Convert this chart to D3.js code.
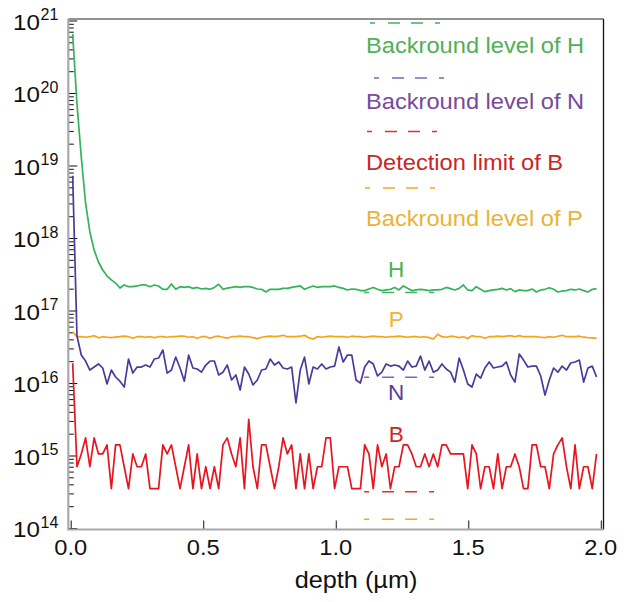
<!DOCTYPE html>
<html>
<head>
<meta charset="utf-8">
<script src="https://cdn.jsdelivr.net/npm/d3@7"></script>
<style>
  body { margin: 0; background: #fff; }
  text { font-family: "Liberation Sans", Arial, Helvetica, sans-serif; }
</style>
</head>
<body>
<svg id="chart" width="634" height="602"></svg>
<script>
'use strict';

// depth sampling of the SIMS profiles (µm)
var depthStart = 0.0075;
var depthStep = 0.0162;

// concentrations (atoms/cm3), one value per depth sample
var hydrogen = [
  6.5e20, 7.05e19, 1.31e19, 3.04e18, 1.21e18, 6.8e17, 4.67e17, 3.62e17, 2.99e17, 2.64e17, 2.39e17, 2.04e17,
  2.25e17, 2.13e17, 2.13e17, 2.18e17, 2.25e17, 2.25e17, 2.13e17, 2.25e17, 2.18e17, 1.96e17, 1.96e17,
  2.32e17, 1.96e17, 2.13e17, 2.08e17, 2.13e17, 2.02e17, 2.08e17, 1.98e17, 2.02e17, 1.96e17, 2.08e17,
  2.30e17, 1.96e17, 2.04e17, 2.08e17, 2.13e17, 2.08e17, 2.13e17, 2.13e17, 2.08e17, 1.98e17, 1.96e17,
  1.80e17, 1.96e17, 1.96e17, 1.96e17, 2.02e17, 2.02e17, 2.08e17, 2.13e17, 2.18e17, 1.96e17, 2.08e17,
  2.18e17, 2.08e17, 2.13e17, 2.13e17, 2.13e17, 2.18e17, 2.08e17, 2.02e17, 1.92e17, 1.98e17, 1.96e17,
  1.88e17, 1.88e17, 1.98e17, 2.08e17, 1.96e17, 1.88e17, 1.92e17, 1.96e17, 2.08e17, 1.92e17, 2.18e17,
  2.02e17, 1.88e17, 1.92e17, 1.96e17, 1.92e17, 1.88e17, 1.92e17, 1.92e17, 1.96e17, 2.08e17, 2.00e17,
  1.92e17, 2.02e17, 2.25e17, 1.92e17, 1.88e17, 2.13e17, 1.96e17, 1.82e17, 1.88e17, 1.92e17, 1.96e17,
  2.02e17, 1.92e17, 2.00e17, 1.82e17, 1.92e17, 1.88e17, 1.88e17, 1.98e17, 1.80e17, 1.92e17, 1.96e17,
  2.06e17, 1.96e17, 1.80e17, 1.86e17, 1.88e17, 1.96e17, 1.92e17, 1.98e17, 1.88e17, 1.80e17, 1.96e17, 2.00e17
];

var nitrogen = [
  7.2e18, 4.45e16, 2.43e16, 2.01e16, 1.51e16, 1.66e16, 1.83e16, 1.61e16, 9.7e15, 1.51e16, 1.21e16, 1.06e16,
  8.8e15, 2.14e16, 1.37e16, 1.66e16, 1.66e16, 1.77e16, 1.66e16, 2.14e16, 2.21e16, 2.85e16, 1.37e16,
  1.51e16, 2.28e16, 1.61e16, 1.06e16, 2.43e16, 1.61e16, 1.56e16, 1.41e16, 1.77e16, 2.01e16, 2.01e16,
  1.29e16, 1.41e16, 1.77e16, 1.10e16, 1.29e16, 8.0e15, 1.66e16, 1.33e16, 9.4e15, 1.10e16, 1.51e16,
  1.56e16, 2.14e16, 1.77e16, 1.95e16, 1.61e16, 1.56e16, 1.66e16, 5.3e15, 1.51e16, 2.28e16, 9.7e15,
  1.66e16, 1.56e16, 1.83e16, 1.56e16, 1.66e16, 1.71e16, 3.14e16, 1.95e16, 2.43e16, 2.43e16, 1.10e16,
  1.00e16, 1.66e16, 2.01e16, 1.83e16, 1.25e16, 1.41e16, 1.83e16, 1.71e16, 1.77e16, 1.71e16, 1.51e16,
  2.01e16, 1.66e16, 1.71e16, 2.35e16, 1.51e16, 2.01e16, 1.41e16, 1.51e16, 1.83e16, 1.56e16, 1.41e16,
  1.03e16, 2.21e16, 1.51e16, 9.7e15, 8.8e15, 1.33e16, 1.17e16, 1.61e16, 1.95e16, 1.61e16, 1.66e16,
  1.71e16, 1.95e16, 1.29e16, 1.03e16, 2.51e16, 2.07e16, 1.66e16, 1.71e16, 1.71e16, 1.25e16, 6.8e15,
  1.10e16, 1.61e16, 1.41e16, 1.71e16, 1.51e16, 1.89e16, 1.95e16, 2.07e16, 1.03e16, 1.61e16, 1.71e16, 1.21e16
];

var phosphorus = [
  5.1e16, 4.35e16, 4.35e16, 4.28e16, 4.35e16, 4.5e16, 4.2e16, 4.35e16, 4.28e16, 4.22e16, 4.28e16, 4.35e16,
  4.42e16, 4.35e16, 4.15e16, 4.35e16, 4.35e16, 4.28e16, 4.35e16, 4.22e16, 4.35e16, 4.35e16, 4.28e16,
  4.35e16, 4.35e16, 4.42e16, 4.42e16, 4.28e16, 4.35e16, 4.15e16, 4.35e16, 4.35e16, 4.15e16, 4.35e16,
  4.42e16, 4.28e16, 4.15e16, 4.35e16, 4.35e16, 4.42e16, 4.35e16, 4.35e16, 4.22e16, 4.1e16, 4.28e16,
  4.35e16, 4.42e16, 4.35e16, 4.42e16, 4.55e16, 4.35e16, 4.35e16, 4.35e16, 4.42e16, 4.55e16, 4.2e16,
  4.05e16, 4.35e16, 4.28e16, 4.35e16, 4.42e16, 4.35e16, 4.35e16, 4.35e16, 4.28e16, 4.42e16, 4.35e16,
  4.35e16, 4.28e16, 4.35e16, 4.42e16, 4.35e16, 4.35e16, 4.28e16, 4.35e16, 4.35e16, 4.42e16, 4.35e16,
  4.28e16, 4.35e16, 4.35e16, 4.28e16, 4.35e16, 4.22e16, 4.05e16, 4.7e16, 4.35e16, 4.28e16, 4.42e16,
  4.35e16, 4.22e16, 4.35e16, 4.1e16, 4.5e16, 4.35e16, 4.35e16, 4.15e16, 4.35e16, 4.35e16, 4.42e16,
  4.35e16, 4.42e16, 4.5e16, 4.35e16, 4.5e16, 4.35e16, 4.35e16, 4.38e16, 4.35e16, 4.28e16, 4.22e16,
  4.35e16, 4.28e16, 4.42e16, 4.55e16, 4.35e16, 4.35e16, 4.35e16, 4.42e16, 4.28e16, 4.22e16, 4.2e16, 4.15e16
];

var boron = [
  1.87e16, 7e14, 1.05e15, 1.75e15, 7e14, 1.75e15, 1.05e15, 1.05e15, 1.4e15, 3.5e14, 1.4e15, 1.4e15,
  7e14, 3.5e14, 1.05e15, 7e14, 7e14, 1.05e15, 3.5e14, 3.5e14, 3.5e14, 1.4e15, 1.05e15,
  1.4e15, 7e14, 3.5e14, 7e14, 1.4e15, 3.5e14, 1.05e15, 3.5e14, 7e14, 3.5e14, 7e14,
  3.5e14, 1.4e15, 1.75e15, 1.05e15, 7e14, 1.75e15, 3.5e14, 3.15e15, 7e14, 3.5e14, 1.4e15,
  1.4e15, 7e14, 3.5e14, 7e14, 1.75e15, 1.05e15, 1.4e15, 3.5e14, 1.05e15, 3.5e14, 1.05e15,
  3.5e14, 7e14, 7e14, 1.75e15, 1.75e15, 3.5e14, 7e14, 7e14, 7e14, 3.5e14, 3.5e14,
  3.5e14, 1.4e15, 1.05e15, 3.5e14, 1.4e15, 7e14, 1.05e15, 3.5e14, 7e14, 7e14, 1.4e15,
  1.4e15, 1.05e15, 7e14, 7e14, 1.05e15, 7e14, 1.05e15, 7e14, 1.4e15, 1.4e15, 1.05e15,
  1.05e15, 1.05e15, 1.05e15, 3.5e14, 1.4e15, 1.05e15, 3.5e14, 7e14, 7e14, 3.5e14, 1.05e15,
  3.5e14, 7e14, 7e14, 1.05e15, 7e14, 3.5e14, 3.5e14, 1.4e15, 1.4e15, 7e14, 7e14,
  3.5e14, 1.05e15, 1.4e15, 1.75e15, 7e14, 3.5e14, 1.4e15, 3.5e14, 7e14, 7e14, 3.5e14, 1.05e15
];

// background / detection levels shown as short dashed marks
var levelNames = ['H', 'N', 'B', 'P'];
var levelValues = [1.77e17, 1.2e16, 3.17e14, 1.32e14];
var levelSpan = [1.107, 1.372];

// in-plot element labels (baseline value)
var labelNames = ['H', 'P', 'N', 'B'];
var labelValues = [2.93e17, 5.98e16, 5.83e15, 1.55e15];
var labelDepth = 1.228;

var legendLabels = ['Backround level of H', 'Backround level of N', 'Detection limit of B', 'Backround level of P'];

var xTicks = [0, 0.5, 1.0, 1.5, 2.0];
var yExponents = [14, 15, 16, 17, 18, 19, 20, 21];

var colors = { H: '#33b35a', N: '#4b3a9c', P: '#f7a21b', B: '#e8141f' };
var textColors = { H: '#52ae58', N: '#774a9c', P: '#ecb236', B: '#c92626' };
var dashColors = { H: '#3fb35c', N: '#8662b4', P: '#f4a62a', B: '#e0302c' };
var labelColors = { H: '#4cb050', N: '#5a3f9e', P: '#f0b43a', B: '#c62828' };

var svg = d3.select('#chart');
var frame = { left: 68.3, right: 603.5, top: 19, bottom: 529.5 };

var x = d3.scaleLinear().domain([0, 2]).range([70.7, 600.8]);
var y = d3.scaleLog().domain([1e14, 1e21]).range([528, 20.5]);

var stretch = 1.1;
var depth = d3.range(hydrogen.length).map(function(i) { return depthStart + i * depthStep; });

// minor / major ticks on the left axis (inward)
var minors = [];
yExponents.slice(0, -1).forEach(function(e) {
  for (var m = 2; m <= 9; m++) { minors.push(m * Math.pow(10, e)); }
});
var majors = yExponents.map(function(e) { return Math.pow(10, e); });

var yMinor = svg.append('g')
  .attr('transform', 'translate(' + frame.left + ',0)')
  .call(d3.axisRight(y).tickValues(minors).tickSize(5.5).tickFormat(''));
var yMajor = svg.append('g')
  .attr('transform', 'translate(' + frame.left + ',0)')
  .call(d3.axisRight(y).tickValues(majors).tickSize(9).tickFormat(''));
var xAxis = svg.append('g')
  .attr('transform', 'translate(0,' + frame.bottom + ')')
  .call(d3.axisTop(x).tickValues(xTicks).tickSize(9).tickFormat(''));

[yMinor, yMajor, xAxis].forEach(function(g) {
  g.select('.domain').remove();
  g.selectAll('line').attr('stroke', '#111').attr('stroke-width', 1);
});

// frame
svg.append('line')
  .attr('x1', frame.left).attr('x2', frame.right)
  .attr('y1', frame.top).attr('y2', frame.top)
  .attr('stroke', '#6e6e6e').attr('stroke-width', 1.3);
svg.append('line')
  .attr('x1', frame.right).attr('x2', frame.right)
  .attr('y1', frame.top).attr('y2', frame.bottom)
  .attr('stroke', '#111').attr('stroke-width', 1.3);
svg.append('line')
  .attr('x1', frame.left).attr('x2', frame.left)
  .attr('y1', frame.top).attr('y2', frame.bottom)
  .attr('stroke', '#a9a9a9').attr('stroke-width', 2.2);
svg.append('line')
  .attr('x1', frame.left - 1).attr('x2', frame.right)
  .attr('y1', frame.bottom).attr('y2', frame.bottom)
  .attr('stroke', '#a9a9a9').attr('stroke-width', 2.2);

// tick labels
svg.append('g').selectAll('text')
  .data(xTicks)
  .join('text')
  .attr('transform', function(d) { return 'translate(' + x(d) + ',555) scale(' + stretch + ',1)'; })
  .attr('text-anchor', 'middle')
  .attr('font-size', 21.5)
  .attr('fill', '#111')
  .text(d3.format('.1f'));

var yLabels = svg.append('g').selectAll('g')
  .data(yExponents)
  .join('g');
yLabels.append('text')
  .attr('transform', function(d) { return 'translate(40,' + (y(Math.pow(10, d)) + 9) + ') scale(' + stretch + ',1)'; })
  .attr('text-anchor', 'end')
  .attr('font-size', 22)
  .attr('fill', '#111')
  .text('10');
yLabels.append('text')
  .attr('x', 40.5)
  .attr('y', function(d) { return y(Math.pow(10, d)) - 0.5; })
  .attr('font-size', 16)
  .attr('fill', '#111')
  .text(function(d) { return d; });

svg.append('text')
  .attr('transform', 'translate(356,588) scale(' + stretch + ',1)')
  .attr('text-anchor', 'middle')
  .attr('font-size', 23)
  .attr('fill', '#111')
  .text('depth (\u00b5m)');

// profiles
var line = d3.line()
  .x(function(d, i) { return x(depth[i]); })
  .y(function(d) { return y(d); });

var series = [
  { key: 'P', values: phosphorus },
  { key: 'H', values: hydrogen },
  { key: 'N', values: nitrogen },
  { key: 'B', values: boron }
];

svg.append('g').selectAll('path')
  .data(series)
  .join('path')
  .attr('d', function(s) { return line(s.values); })
  .attr('fill', 'none')
  .attr('stroke', function(s) { return colors[s.key]; })
  .attr('stroke-width', 1.7)
  .attr('stroke-linejoin', 'round');

// level marks inside the plot
var dashPattern = '5 13 12 11 12 12 5 300';
svg.append('g').selectAll('line')
  .data(levelNames)
  .join('line')
  .attr('x1', x(levelSpan[0]))
  .attr('x2', x(levelSpan[1]))
  .attr('y1', function(d, i) { return y(levelValues[i]); })
  .attr('y2', function(d, i) { return y(levelValues[i]); })
  .attr('stroke', function(d) { return dashColors[d]; })
  .attr('stroke-width', 1.5)
  .attr('stroke-dasharray', dashPattern);

svg.append('g').selectAll('text')
  .data(labelNames)
  .join('text')
  .attr('x', x(labelDepth))
  .attr('y', function(d, i) { return y(labelValues[i]); })
  .attr('text-anchor', 'middle')
  .attr('font-size', 22.5)
  .attr('fill', function(d) { return labelColors[d]; })
  .text(function(d) { return d; });

// legend: dashed sample above each caption
var legendX = [370, 374, 367, 365];
var legendDashY = [23, 78, 131.5, 188];
var legendTextY = [53, 109, 170, 226];

var legend = svg.append('g').selectAll('g')
  .data(levelNames)
  .join('g');
legend.append('line')
  .attr('x1', function(d, i) { return legendX[i]; })
  .attr('x2', function(d, i) { return legendX[i] + 72; })
  .attr('y1', function(d, i) { return legendDashY[i]; })
  .attr('y2', function(d, i) { return legendDashY[i]; })
  .attr('stroke', function(d) { return dashColors[d]; })
  .attr('stroke-width', 1.5)
  .attr('stroke-dasharray', dashPattern);
legend.append('text')
  .attr('transform', function(d, i) { return 'translate(366,' + legendTextY[i] + ') scale(' + stretch + ',1)'; })
  .attr('font-size', 21.5)
  .attr('fill', function(d) { return textColors[d]; })
  .text(function(d, i) { return legendLabels[i]; });
</script>
</body>
</html>
